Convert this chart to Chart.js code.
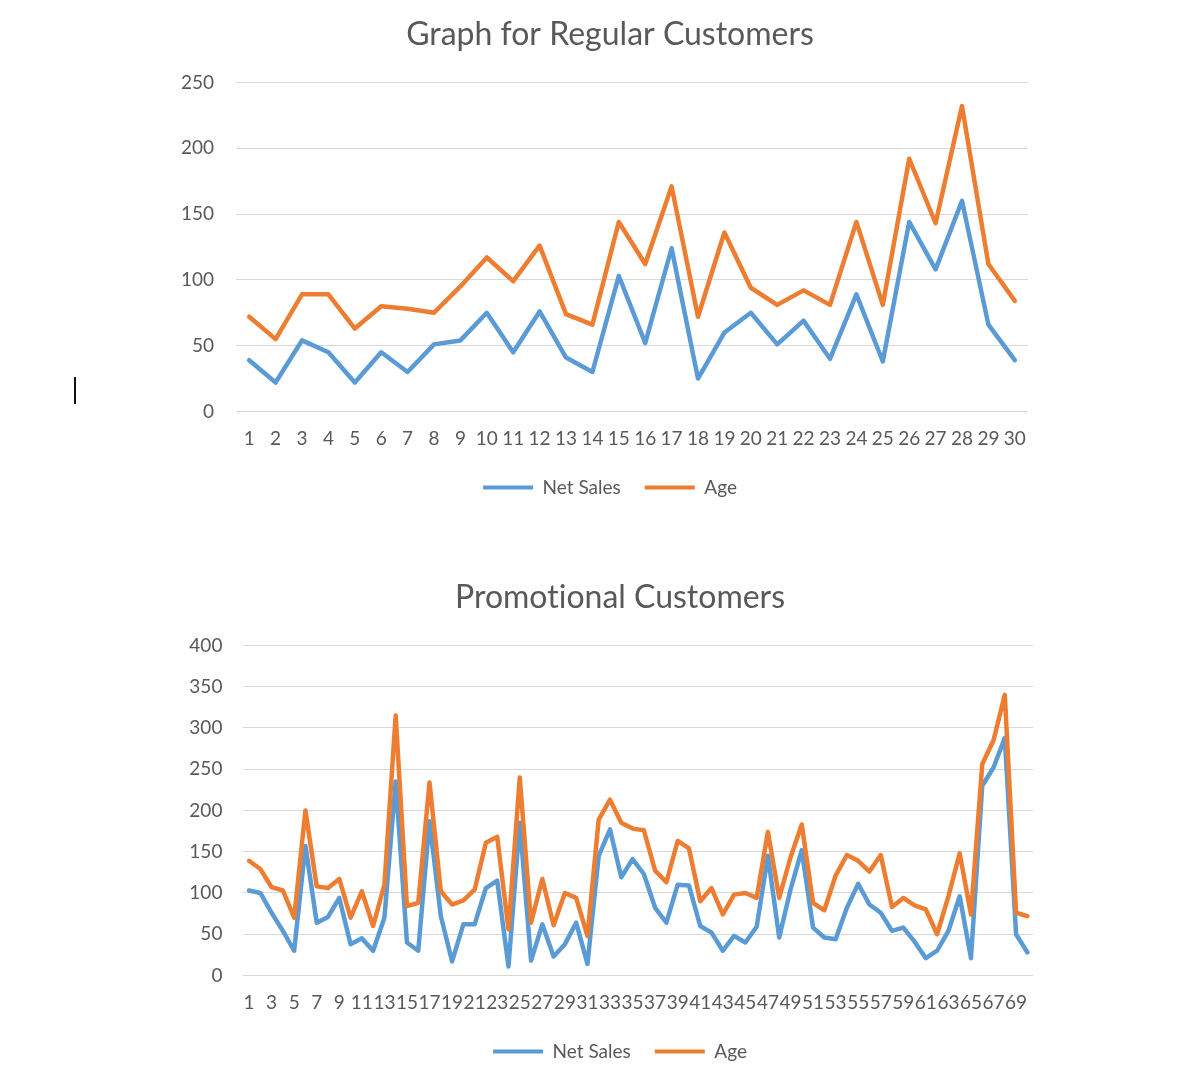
<!DOCTYPE html>
<html>
<head>
<meta charset="utf-8">
<script src="https://cdn.jsdelivr.net/npm/chart.js@4.4.1/dist/chart.umd.min.js"></script>
<style>
  html, body { margin: 0; padding: 0; background: #fff; }
  body { width: 1200px; height: 1080px; position: relative; overflow: hidden; }
  .box { position: absolute; left: 0; width: 1200px; }
  #cursor { position: absolute; left: 74px; top: 377px; width: 2px; height: 27px; background: #111; }
</style>
</head>
<body>
<div class="box" style="top:0;height:507px"><canvas id="regular"></canvas></div>
<div class="box" style="top:560px;height:511px"><canvas id="promo"></canvas></div>
<div id="cursor"></div>
<script>
const regularLabels = [1, 2, 3, 4, 5, 6, 7, 8, 9, 10, 11, 12, 13, 14, 15,
  16, 17, 18, 19, 20, 21, 22, 23, 24, 25, 26, 27, 28, 29, 30];
const regularNetSales = [39, 22, 54, 45, 22, 45, 30, 51, 54, 75, 45, 76, 41, 30, 103,
  52, 124, 25, 60, 75, 51, 69, 40, 89, 38, 144, 108, 160, 66, 39];
const regularAge = [72, 55, 89, 89, 63, 80, 78, 75, 95, 117, 99, 126, 74, 66, 144,
  112, 171, 72, 136, 94, 81, 92, 81, 144, 81, 192, 143, 232, 112, 84];

const promoLabels = [1, 2, 3, 4, 5, 6, 7, 8, 9, 10, 11, 12, 13, 14, 15, 16, 17, 18, 19, 20,
  21, 22, 23, 24, 25, 26, 27, 28, 29, 30, 31, 32, 33, 34, 35, 36, 37, 38, 39, 40,
  41, 42, 43, 44, 45, 46, 47, 48, 49, 50, 51, 52, 53, 54, 55, 56, 57, 58, 59, 60,
  61, 62, 63, 64, 65, 66, 67, 68, 69, 70];
const promoNetSales = [103, 100, 76, 54, 30, 157, 64, 71, 94, 38, 45, 30, 70, 235, 40, 30, 187, 72, 17, 62,
  62, 106, 115, 11, 185, 18, 62, 23, 38, 64, 14, 145, 177, 119, 141, 123, 82, 64, 110, 109,
  60, 52, 30, 48, 40, 59, 145, 46, 104, 152, 58, 46, 44, 82, 111, 86, 76, 54, 58, 41,
  21, 30, 54, 96, 21, 230, 252, 288, 50, 28];
const promoAge = [139, 129, 107, 103, 70, 200, 108, 106, 117, 70, 102, 60, 110, 315, 84, 88, 234, 102, 86, 91,
  104, 161, 168, 56, 240, 64, 117, 61, 100, 94, 48, 189, 213, 185, 178, 176, 127, 113, 163, 154,
  90, 106, 74, 98, 100, 94, 174, 94, 143, 183, 88, 79, 121, 146, 139, 126, 146, 83, 94, 85,
  80, 50, 96, 148, 74, 256, 285, 340, 76, 72];

const BLUE = '#5b9bd5';
const ORANGE = '#ed7d31';
const TEXT = '#595959';
const FONT = 'Lato, "Open Sans", sans-serif';

// Lato would otherwise join "ti" into a ligature
const noLigatures = {
  id: 'noLigatures',
  beforeDraw(chart) {
    chart.ctx.textRendering = 'optimizeSpeed';
  },
};

function legendLabels(chart) {
  const items = Chart.defaults.plugins.legend.labels.generateLabels(chart);
  items.forEach((item) => {
    item.fillStyle = item.strokeStyle;
    item.lineWidth = 0;
  });
  return items;
}

function makeChart(id, labels, netSales, age, cfg) {
  return new Chart(document.getElementById(id), {
    type: 'line',
    plugins: [noLigatures],
    data: {
      labels: labels,
      datasets: [
        {
          label: 'Net Sales',
          data: netSales,
          borderColor: BLUE,
          backgroundColor: BLUE,
          order: 1,
        },
        {
          label: 'Age',
          data: age,
          borderColor: ORANGE,
          backgroundColor: ORANGE,
          order: 0,
        },
      ],
    },
    options: {
      responsive: true,
      maintainAspectRatio: false,
      animation: false,
      borderWidth: 4.5,
      pointRadius: 0,
      tension: 0,
      borderJoinStyle: 'round',
      borderCapStyle: 'round',
      layout: {
        padding: { left: cfg.padLeft, right: cfg.padRight, top: 0, bottom: 0 },
      },
      scales: {
        x: {
          offset: true,
          border: { display: false },
          grid: { display: false, drawTicks: false },
          ticks: {
            autoSkip: false,
            maxRotation: 0,
            minRotation: 0,
            padding: 16,
            color: TEXT,
            font: { family: FONT, size: 19 },
            // second chart only shows every other category, like the original
            callback: function (value, index) {
              if (cfg.everyOther && index % 2 === 1) return '';
              return this.getLabelForValue(value);
            },
          },
          afterFit: (scale) => {
            scale.height = 42.5;
          },
        },
        y: {
          min: 0,
          max: cfg.yMax,
          border: { display: false },
          grid: { color: '#d9d9d9', lineWidth: 1, drawTicks: false },
          ticks: {
            stepSize: 50,
            padding: cfg.tickPad,
            color: TEXT,
            font: { family: FONT, size: 19 },
          },
          afterFit: (scale) => {
            scale.width = cfg.yWidth;
          },
        },
        // empty right axis, only there so the title and legend centre where the original has them
        y2: {
          type: 'linear',
          position: 'right',
          min: 0,
          max: 1,
          border: { display: false },
          grid: { display: false, drawTicks: false },
          ticks: { display: false },
          afterFit: (scale) => {
            scale.width = cfg.y2Width;
          },
        },
      },
      plugins: {
        title: {
          display: true,
          text: cfg.title,
          color: TEXT,
          font: { family: FONT, size: 32, weight: 'normal' },
          padding: { top: cfg.titleTop, bottom: cfg.titleBottom },
        },
        legend: {
          position: 'bottom',
          labels: {
            boxWidth: 50,
            boxHeight: 4,
            padding: 24,
            color: TEXT,
            font: { family: FONT, size: 19 },
            generateLabels: legendLabels,
            sort: (a, b) => a.datasetIndex - b.datasetIndex,
          },
        },
        tooltip: { enabled: false },
      },
    },
  });
}

makeChart('regular', regularLabels, regularNetSales, regularAge, {
  title: 'Graph for Regular Customers',
  yMax: 250,
  padLeft: 176,
  padRight: 156,
  yWidth: 60,
  y2Width: 16,
  tickPad: 22,
  titleTop: 15,
  titleBottom: 29,
  everyOther: false,
});

makeChart('promo', promoLabels, promoNetSales, promoAge, {
  title: 'Promotional Customers',
  yMax: 400,
  padLeft: 188.4,
  padRight: 148.4,
  yWidth: 55,
  y2Width: 18.6,
  tickPad: 21,
  titleTop: 18,
  titleBottom: 29,
  everyOther: true,
});
</script>
</body>
</html>
